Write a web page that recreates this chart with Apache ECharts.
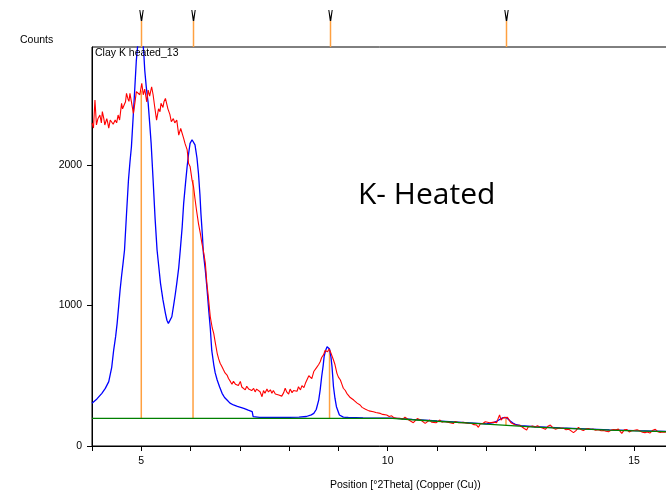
<!DOCTYPE html>
<html>
<head>
<meta charset="utf-8">
<script src="https://cdn.jsdelivr.net/npm/echarts@6/dist/echarts.min.js"></script>
<style>
html,body{margin:0;padding:0;background:#fff;overflow:hidden;}
#chart{width:666px;height:497px;}
</style>
</head>
<body>
<div id="chart"></div>
<script>
// Observed pattern (red): [2Theta, counts]
const observed = [
[4.00,2300],[4.03,2263],[4.06,2463],[4.09,2285],[4.12,2330],[4.16,2356],[4.19,2300],[4.21,2380],[4.24,2330],[4.26,2285],
[4.30,2330],[4.32,2300],[4.34,2263],[4.37,2320],[4.40,2334],[4.43,2290],[4.47,2320],[4.50,2300],[4.53,2356],[4.56,2320],
[4.60,2439],[4.62,2400],[4.65,2393],[4.68,2450],[4.70,2510],[4.73,2470],[4.75,2453],[4.77,2510],[4.80,2450],[4.84,2368],
[4.87,2440],[4.90,2522],[4.94,2533],[4.97,2500],[5.01,2582],[5.04,2500],[5.07,2540],[5.11,2450],[5.14,2533],[5.17,2490],
[5.21,2557],[5.24,2500],[5.27,2420],[5.31,2320],[5.35,2400],[5.38,2380],[5.40,2439],[5.44,2410],[5.46,2450],[5.49,2474],
[5.52,2430],[5.54,2400],[5.58,2360],[5.61,2308],[5.65,2330],[5.68,2300],[5.72,2320],[5.76,2213],[5.80,2260],[5.83,2250],
[5.86,2190],[5.89,2150],[5.93,2110],[5.96,2010],[5.99,1990],[6.03,1893],[6.06,1846],[6.09,1760],[6.12,1680],[6.16,1585],
[6.20,1510],[6.23,1443],[6.27,1370],[6.30,1300],[6.33,1160],[6.36,1063],[6.40,920],[6.44,840],[6.47,802],[6.50,740],
[6.54,660],[6.57,620],[6.60,589],[6.63,570],[6.67,541],[6.70,520],[6.74,505],[6.77,480],[6.81,458],[6.84,440],
[6.87,460],[6.91,440],[6.94,446],[6.97,430],[7.01,460],[7.04,420],[7.08,422],[7.11,400],[7.14,425],[7.18,405],
[7.21,418],[7.24,395],[7.28,410],[7.31,385],[7.34,405],[7.38,395],[7.41,386],[7.45,351],[7.48,395],[7.51,375],
[7.55,405],[7.58,385],[7.62,400],[7.65,375],[7.68,395],[7.72,370],[7.75,380],[7.79,363],[7.82,375],[7.85,355],
[7.89,380],[7.92,411],[7.95,385],[7.99,370],[8.02,405],[8.06,380],[8.09,395],[8.12,405],[8.16,390],[8.19,422],
[8.23,399],[8.26,430],[8.30,415],[8.33,446],[8.36,455],[8.40,500],[8.43,493],[8.46,480],[8.50,530],[8.53,541],
[8.56,560],[8.60,580],[8.63,600],[8.66,630],[8.70,650],[8.73,680],[8.76,690],[8.78,671],[8.81,690],[8.84,670],
[8.87,670],[8.90,612],[8.93,580],[8.97,517],[9.00,490],[9.04,470],[9.07,440],[9.10,411],[9.14,395],[9.17,375],
[9.21,365],[9.24,345],[9.28,350],[9.31,327],[9.35,320],[9.38,305],[9.41,300],[9.44,292],[9.48,275],[9.51,280],
[9.55,262],[9.58,256],[9.62,250],[9.66,255],[9.71,244],[9.76,238],[9.80,230],[9.85,232],[9.90,225],[9.94,228],
[9.98,221],[10.03,210],[10.08,215],[10.13,200],[10.19,197],[10.25,197],[10.30,190],[10.35,205],[10.39,213],[10.43,185],
[10.47,190],[10.52,166],[10.56,173],[10.60,195],[10.63,209],[10.67,185],[10.71,180],[10.76,161],[10.80,175],[10.85,185],
[10.89,170],[10.93,173],[10.98,165],[11.02,175],[11.06,185],[11.10,170],[11.15,175],[11.19,165],[11.24,168],[11.28,172],
[11.33,160],[11.37,175],[11.40,185],[11.44,165],[11.48,170],[11.53,168],[11.57,158],[11.62,162],[11.66,150],[11.70,160],
[11.75,152],[11.80,150],[11.84,133],[11.88,158],[11.93,160],[11.98,173],[12.02,160],[12.07,165],[12.11,155],[12.16,170],
[12.21,165],[12.24,195],[12.27,221],[12.30,185],[12.34,200],[12.38,204],[12.43,204],[12.47,204],[12.50,165],[12.54,160],
[12.59,150],[12.63,145],[12.68,148],[12.72,140],[12.77,125],[12.82,114],[12.85,135],[12.89,149],[12.94,142],[12.99,135],
[13.04,145],[13.09,133],[13.14,128],[13.20,119],[13.25,140],[13.30,149],[13.35,130],[13.40,120],[13.45,125],[13.51,128],
[13.57,126],[13.62,115],[13.67,120],[13.72,108],[13.77,95],[13.82,110],[13.87,133],[13.92,118],[13.97,110],[14.02,120],
[14.07,125],[14.12,118],[14.17,120],[14.22,112],[14.28,116],[14.33,108],[14.38,110],[14.43,105],[14.48,102],[14.53,112],
[14.58,118],[14.63,115],[14.68,120],[14.75,90],[14.80,115],[14.85,118],[14.90,100],[14.95,108],[15.01,112],[15.06,115],
[15.11,108],[15.17,98],[15.22,95],[15.27,100],[15.32,92],[15.37,110],[15.43,119],[15.48,102],[15.53,96],[15.58,100],
[15.63,98],[15.68,104],[15.75,100],[15.85,98]
];

// Calculated profile (blue)
const calculated = [
[4.00,305],[4.10,335],[4.20,375],[4.27,410],[4.34,458],[4.40,560],[4.44,683],[4.48,780],[4.51,873],[4.54,990],
[4.57,1110],[4.60,1210],[4.63,1300],[4.66,1395],[4.70,1650],[4.74,1893],[4.77,2020],[4.80,2130],[4.84,2370],[4.87,2557],
[4.90,2747],[4.94,2900],[4.98,2960],[5.02,2930],[5.05,2800],[5.07,2676],[5.10,2560],[5.14,2439],[5.17,2300],[5.20,2154],
[5.24,1893],[5.28,1620],[5.32,1395],[5.36,1260],[5.39,1158],[5.44,1040],[5.49,944],[5.52,895],[5.55,873],[5.58,885],
[5.62,920],[5.66,1010],[5.69,1080],[5.72,1158],[5.76,1270],[5.79,1390],[5.83,1560],[5.86,1727],[5.90,1880],[5.93,1988],
[5.96,2080],[5.99,2154],[6.03,2180],[6.06,2178],[6.09,2143],[6.13,2050],[6.16,1941],[6.19,1790],[6.21,1656],[6.24,1500],
[6.26,1372],[6.30,1250],[6.33,1134],[6.37,960],[6.40,840],[6.43,680],[6.47,580],[6.50,520],[6.54,470],[6.59,420],
[6.64,375],[6.69,345],[6.74,327],[6.80,305],[6.87,292],[6.95,282],[7.08,268],[7.17,255],[7.25,244],[7.27,209],
[7.40,203],[7.60,204],[7.80,204],[8.00,204],[8.20,205],[8.35,210],[8.45,222],[8.50,232],[8.55,260],[8.60,327],
[8.63,400],[8.66,493],[8.69,570],[8.71,636],[8.74,680],[8.77,707],[8.80,700],[8.82,690],[8.85,630],[8.87,565],
[8.90,422],[8.93,340],[8.96,280],[9.02,221],[9.10,206],[9.20,203],[9.50,200],[10.10,199],[10.50,189],[11.00,178],
[11.50,168],[12.00,158],[12.15,166],[12.23,180],[12.28,190],[12.33,200],[12.38,204],[12.43,196],[12.48,180],[12.54,164],
[12.59,154],[12.70,145],[13.00,137],[13.50,129],[14.00,122],[14.50,115],[15.00,109],[15.85,102]
];

// Background (green)
const background = [
[4.00,197],[10.10,197],[10.50,187],[11.00,176],[11.50,166],[12.00,155],[12.50,145],[13.00,135],
[13.50,127],[14.00,120],[14.50,113],[15.00,107],[15.85,100]
];

// Peak list: position, stick base, stick top
const peakPos  = [5.00, 6.05, 8.82, 12.40];
const peakBase = [197, 197, 197, 146];
const peakTop  = [2530, 1893, 683, 195];

const xTicks = [4,5,6,7,8,9,10,11,12,13,14,15];
const xLabels = [5,10,15];
const yTicks = [0,1000,2000];

const sticks = peakPos.map((p,i)=>[p, peakBase[i], peakTop[i]]);
const markers = peakPos.map(p=>[p, 0, 1]);

const ORANGE = '#ffa040';
const FONT = 'Liberation Sans, Arial, sans-serif';

const chart = echarts.init(document.getElementById('chart'), null, {renderer:'canvas'});
chart.setOption({
  animation:false,
  backgroundColor:'#fff',
  grid:[
    {left:92, top:47, width:584, height:399, show:true, borderColor:'#000', borderWidth:1, backgroundColor:'transparent',
     outerBoundsMode:'none', containLabel:false},
    {left:92, top:21, width:584, height:26, show:false, outerBoundsMode:'none', containLabel:false}
  ],
  xAxis:[
    {type:'value', gridIndex:0, min:4, max:15.85,
     axisLine:{show:true, onZero:false, lineStyle:{color:'#000', width:1}},
     axisTick:{show:true, length:5, inside:false, customValues:xTicks, lineStyle:{color:'#000'}},
     axisLabel:{show:true, customValues:xLabels, margin:10, color:'#000', fontSize:10.5, fontFamily:FONT,
                formatter:function(v){return String(v);}},
     splitLine:{show:false}},
    {type:'value', gridIndex:1, min:4, max:15.85, show:false}
  ],
  yAxis:[
    {type:'value', gridIndex:0, min:0, max:2840,
     axisLine:{show:true, onZero:false, lineStyle:{color:'#000', width:1}},
     axisTick:{show:true, length:5, inside:false, customValues:yTicks, lineStyle:{color:'#000'}},
     axisLabel:{show:true, customValues:yTicks, margin:10, color:'#000', fontSize:10.5, fontFamily:FONT,
                formatter:function(v){return String(v);}},
     splitLine:{show:false}},
    {type:'value', gridIndex:1, min:0, max:1, show:false}
  ],
  series:[
    {type:'custom', xAxisIndex:0, yAxisIndex:0, z:1, data:sticks, clip:true,
     renderItem:function(params, api){
       const a = api.coord([api.value(0), api.value(1)]);
       const b = api.coord([api.value(0), api.value(2)]);
       return {type:'line', shape:{x1:a[0],y1:a[1],x2:b[0],y2:b[1]}, style:{stroke:ORANGE, lineWidth:1.5}};
     }},
    {type:'line', name:'calc', data:calculated, xAxisIndex:0, yAxisIndex:0, z:2, symbol:'none', clip:true,
     lineStyle:{color:'#0000ff', width:1.3}},
    {type:'line', name:'obs', data:observed, xAxisIndex:0, yAxisIndex:0, z:3, symbol:'none', clip:true,
     lineStyle:{color:'#ff0000', width:1.1}},
    {type:'line', name:'bg', data:background, xAxisIndex:0, yAxisIndex:0, z:4, symbol:'none', clip:true,
     lineStyle:{color:'#008000', width:1.3}},
    {type:'custom', xAxisIndex:1, yAxisIndex:1, z:5, data:markers, clip:false,
     renderItem:function(params, api){
       const a = api.coord([api.value(0), api.value(1)]);
       const b = api.coord([api.value(0), api.value(2)]);
       const x = Math.round(a[0]) + 0.5;
       return {type:'group', children:[
         {type:'line', shape:{x1:x,y1:a[1],x2:x,y2:b[1]}, style:{stroke:ORANGE, lineWidth:1.5}},
         {type:'polygon', shape:{points:[[x-2.2,b[1]-11],[x-1.2,b[1]-11],[x,b[1]-4],[x+1.2,b[1]-11],[x+2.2,b[1]-11],[x+0.7,b[1]],[x-0.7,b[1]]]},
          style:{fill:'#000'}}
       ]};
     }}
  ],
  graphic:[
    {type:'text', left:20, top:35, style:{text:'Counts', font:'10.5px Liberation Sans', fill:'#000'}},
    {type:'text', left:95, top:48, z:10, style:{text:'Clay K heated_13', font:'10.5px Liberation Sans', fill:'#000'}},
    {type:'text', left:358, top:180, style:{text:'K- Heated', font:'30px "Open Sans"', fill:'#000'}},
    {type:'text', left:330, top:480, style:{text:'Position [°2Theta] (Copper (Cu))', font:'10.5px Liberation Sans', fill:'#000'}}
  ]
});
</script>
</body>
</html>
